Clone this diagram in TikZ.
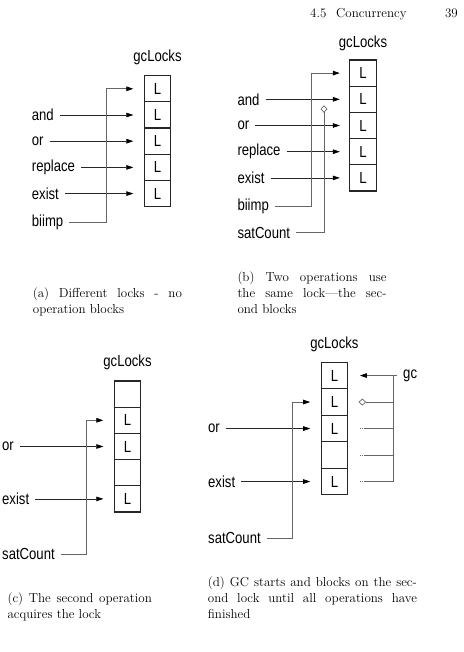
\documentclass[tikz,border=0pt]{standalone}
\usepackage{fontspec}
\newfontfamily\lsans[FakeStretch=0.82]{Liberation Sans}
\usetikzlibrary{arrows.meta}
\tikzset{
  lab/.style={font=\lsans\fontsize{16}{19}\selectfont, inner sep=0pt, anchor=west},
  ttl/.style={font=\lsans\fontsize{16}{19}\selectfont, inner sep=0pt},
  cell/.style={draw=black!85, line width=1.2pt, minimum width=26.4pt, minimum height=26.2pt,
    inner sep=0pt, outer sep=0pt, font=\lsans\fontsize{16}{19}\selectfont},
  tipstyle/.style={-{Triangle[length=7pt,width=4.6pt,black]}},
  op/.style={draw=black!85, line width=0.6pt, tipstyle},
  conn/.style={draw=black!60, line width=0.8pt, tipstyle},
  plain/.style={draw=black!60, line width=0.8pt},
  dia/.style={draw=black!60, line width=0.7pt, -{Diamond[open,length=7.5pt,width=7pt]}},
  dotseg/.style={draw=black!60, line width=0.8pt, dash pattern=on 0.9pt off 1.3pt},
  capline/.style={font=\fontsize{13}{16}\selectfont, inner sep=0pt, anchor=base west},
}
\begin{document}
\begin{tikzpicture}[x=1pt, y=-1pt]
\useasboundingbox (0,0) rectangle (463,652);

% header
\node[capline] (h1) at (310,17.5) {4.5};
\node[capline] (h2) at (336,17.5) {Concurrency};
\node[capline, anchor=base east] (h3) at (458,17.5) {39};

% ---------------- panel (a)
\node[ttl] (ta) at (157.5,57) {gcLocks};
\node[cell] (a1) at (157.5,88.8) {L};
\node[cell] (a2) at (157.5,115.0) {L};
\node[cell] (a3) at (157.5,141.2) {L};
\node[cell] (a4) at (157.5,167.4) {L};
\node[cell] (a5) at (157.5,193.6) {L};
\node[lab] (aand) at (31.7,115.0) {and};
\node[lab] (aor)  at (31.7,141.2) {or};
\node[lab] (arep) at (31.7,167.4) {replace};
\node[lab] (aex)  at (31.7,193.6) {exist};
\node[lab] (abi)  at (31.7,222.3) {biimp};
\draw[op] ([xshift=6pt]aand.east) -- ([xshift=-11pt]a2.west);
\draw[op] ([xshift=6pt]aor.east) -- ([xshift=-11pt]a3.west);
\draw[op] ([xshift=6pt]arep.east) -- ([xshift=-11pt]a4.west);
\draw[op] ([xshift=6pt]aex.east) -- ([xshift=-11pt]a5.west);
\coordinate (ja) at ([xshift=-37.6pt]a1.west);
\draw[conn] ([xshift=6pt]abi.east) -| (ja) -- ([xshift=-11pt]a1.west);
\node[capline] (ca1) at (32.7,297.5) {\makebox[149pt][s]{(a) Different locks - no}};
\node[capline] (ca2) at (32.7,313.5) {operation blocks};

% ---------------- panel (b)
\node[ttl] (tb) at (363,43.3) {gcLocks};
\node[cell] (b1) at (363,73.1) {L};
\node[cell] (b2) at (363,99.3) {L};
\node[cell] (b3) at (363,125.5) {L};
\node[cell] (b4) at (363,151.7) {L};
\node[cell] (b5) at (363,177.9) {L};
\node[lab] (band) at (237.3,99.3) {and};
\node[lab] (bor)  at (237.3,125.5) {or};
\node[lab] (brep) at (237.3,151.7) {replace};
\node[lab] (bex)  at (237.3,177.9) {exist};
\node[lab] (bbi)  at (237.3,206) {biimp};
\node[lab] (bsat) at (237.3,232.7) {satCount};
\draw[op] ([xshift=6pt]band.east) -- ([xshift=-10pt]b2.west);
\draw[op] ([xshift=6pt]bor.east) -- ([xshift=-10pt]b3.west);
\draw[op] ([xshift=6pt]brep.east) -- ([xshift=-10pt]b4.west);
\draw[op] ([xshift=6pt]bex.east) -- ([xshift=-10pt]b5.west);
\coordinate (jb) at ([xshift=-38.1pt]b1.west);
\draw[conn] ([xshift=6pt]bbi.east) -| (jb) -- ([xshift=-10pt]b1.west);
\coordinate (db) at (324,105.3);
\draw[dia] ([xshift=6pt]bsat.east) -| (db);
\node[capline] (cb1) at (237.3,281.3) {\makebox[149pt][s]{(b) Two operations use}};
\node[capline] (cb2) at (237.3,297.5) {\makebox[149pt][s]{the same lock---the sec-}};
\node[capline] (cb3) at (237.3,313.7) {ond blocks};

% ---------------- panel (c)
\node[ttl] (tc) at (127.5,362) {gcLocks};
\node[cell] (c1) at (127.5,394.1) {};
\node[cell] (c2) at (127.5,420.3) {L};
\node[cell] (c3) at (127.5,446.5) {L};
\node[cell] (c4) at (127.5,472.7) {};
\node[cell] (c5) at (127.5,498.9) {L};
\node[lab] (cor)  at (2,446.5) {or};
\node[lab] (cex)  at (2,498.9) {exist};
\node[lab] (csat) at (2,554.3) {satCount};
\draw[op] ([xshift=6pt]cor.east) -- ([xshift=-11pt]c3.west);
\draw[op] ([xshift=6pt]cex.east) -- ([xshift=-11pt]c5.west);
\coordinate (jc) at ([xshift=-28.3pt]c2.west);
\draw[conn] ([xshift=6pt]csat.east) -| (jc) -- ([xshift=-11pt]c2.west);
\node[capline] (cc1) at (7.4,602.7) {\makebox[144.3pt][s]{(c) The second operation}};
\node[capline] (cc2) at (7.4,618.5) {acquires the lock};

% ---------------- panel (d)
\node[ttl] (td) at (334.4,344.5) {gcLocks};
\node[cell, minimum height=26.5pt] (d1) at (334.4,375.55) {L};
\node[cell, minimum height=26.5pt] (d2) at (334.4,402.05) {L};
\node[cell, minimum height=26.5pt] (d3) at (334.4,428.55) {L};
\node[cell, minimum height=26.5pt] (d4) at (334.4,455.05) {};
\node[cell, minimum height=26.5pt] (d5) at (334.4,481.55) {L};
\node[lab] (dor)  at (208,428.55) {or};
\node[lab] (dex)  at (208,481.55) {exist};
\node[lab] (dsat) at (208,538.3) {satCount};
\draw[op] ([xshift=6pt]dor.east) -- ([xshift=-11pt]d3.west);
\draw[op] ([xshift=6pt]dex.east) -- ([xshift=-11pt]d5.west);
\coordinate (jd) at ([xshift=-28.9pt]d2.west);
\draw[conn] ([xshift=6pt]dsat.east) -| (jd) -- ([xshift=-11pt]d2.west);
% gc side
\node[lab] (gc) at (403,375.55) {gc};
\draw[conn] ([xshift=-6pt]gc.west) -- ([xshift=12.3pt]d1.east);
\coordinate (gv1) at (393.3,375.55);
\coordinate (gv2) at (393.3,402.05);
\coordinate (gv3) at (393.3,428.55);
\coordinate (gv4) at (393.3,455.05);
\coordinate (gv5) at (393.3,481.55);
\draw[plain] (gv1) -- (gv5);
\draw[dia] (gv2) -- ([xshift=11pt]d2.east);
\draw[plain] (gv3) -- ([xshift=17.6pt]d3.east);
\draw[plain] (gv4) -- ([xshift=17.6pt]d4.east);
\draw[plain] (gv5) -- ([xshift=17.6pt]d5.east);
\draw[dotseg] ([xshift=17.6pt]d3.east) -- ([xshift=11.3pt]d3.east);
\draw[dotseg] ([xshift=17.6pt]d4.east) -- ([xshift=11.3pt]d4.east);
\draw[dotseg] ([xshift=17.6pt]d5.east) -- ([xshift=11.3pt]d5.east);
\node[capline] (cd1) at (207.7,586.5) {\makebox[209pt][s]{(d) GC starts and blocks on the sec-}};
\node[capline] (cd2) at (207.7,602.7) {\makebox[209pt][s]{ond lock until all operations have}};
\node[capline] (cd3) at (207.7,618.7) {finished};
\end{tikzpicture}
\end{document}
